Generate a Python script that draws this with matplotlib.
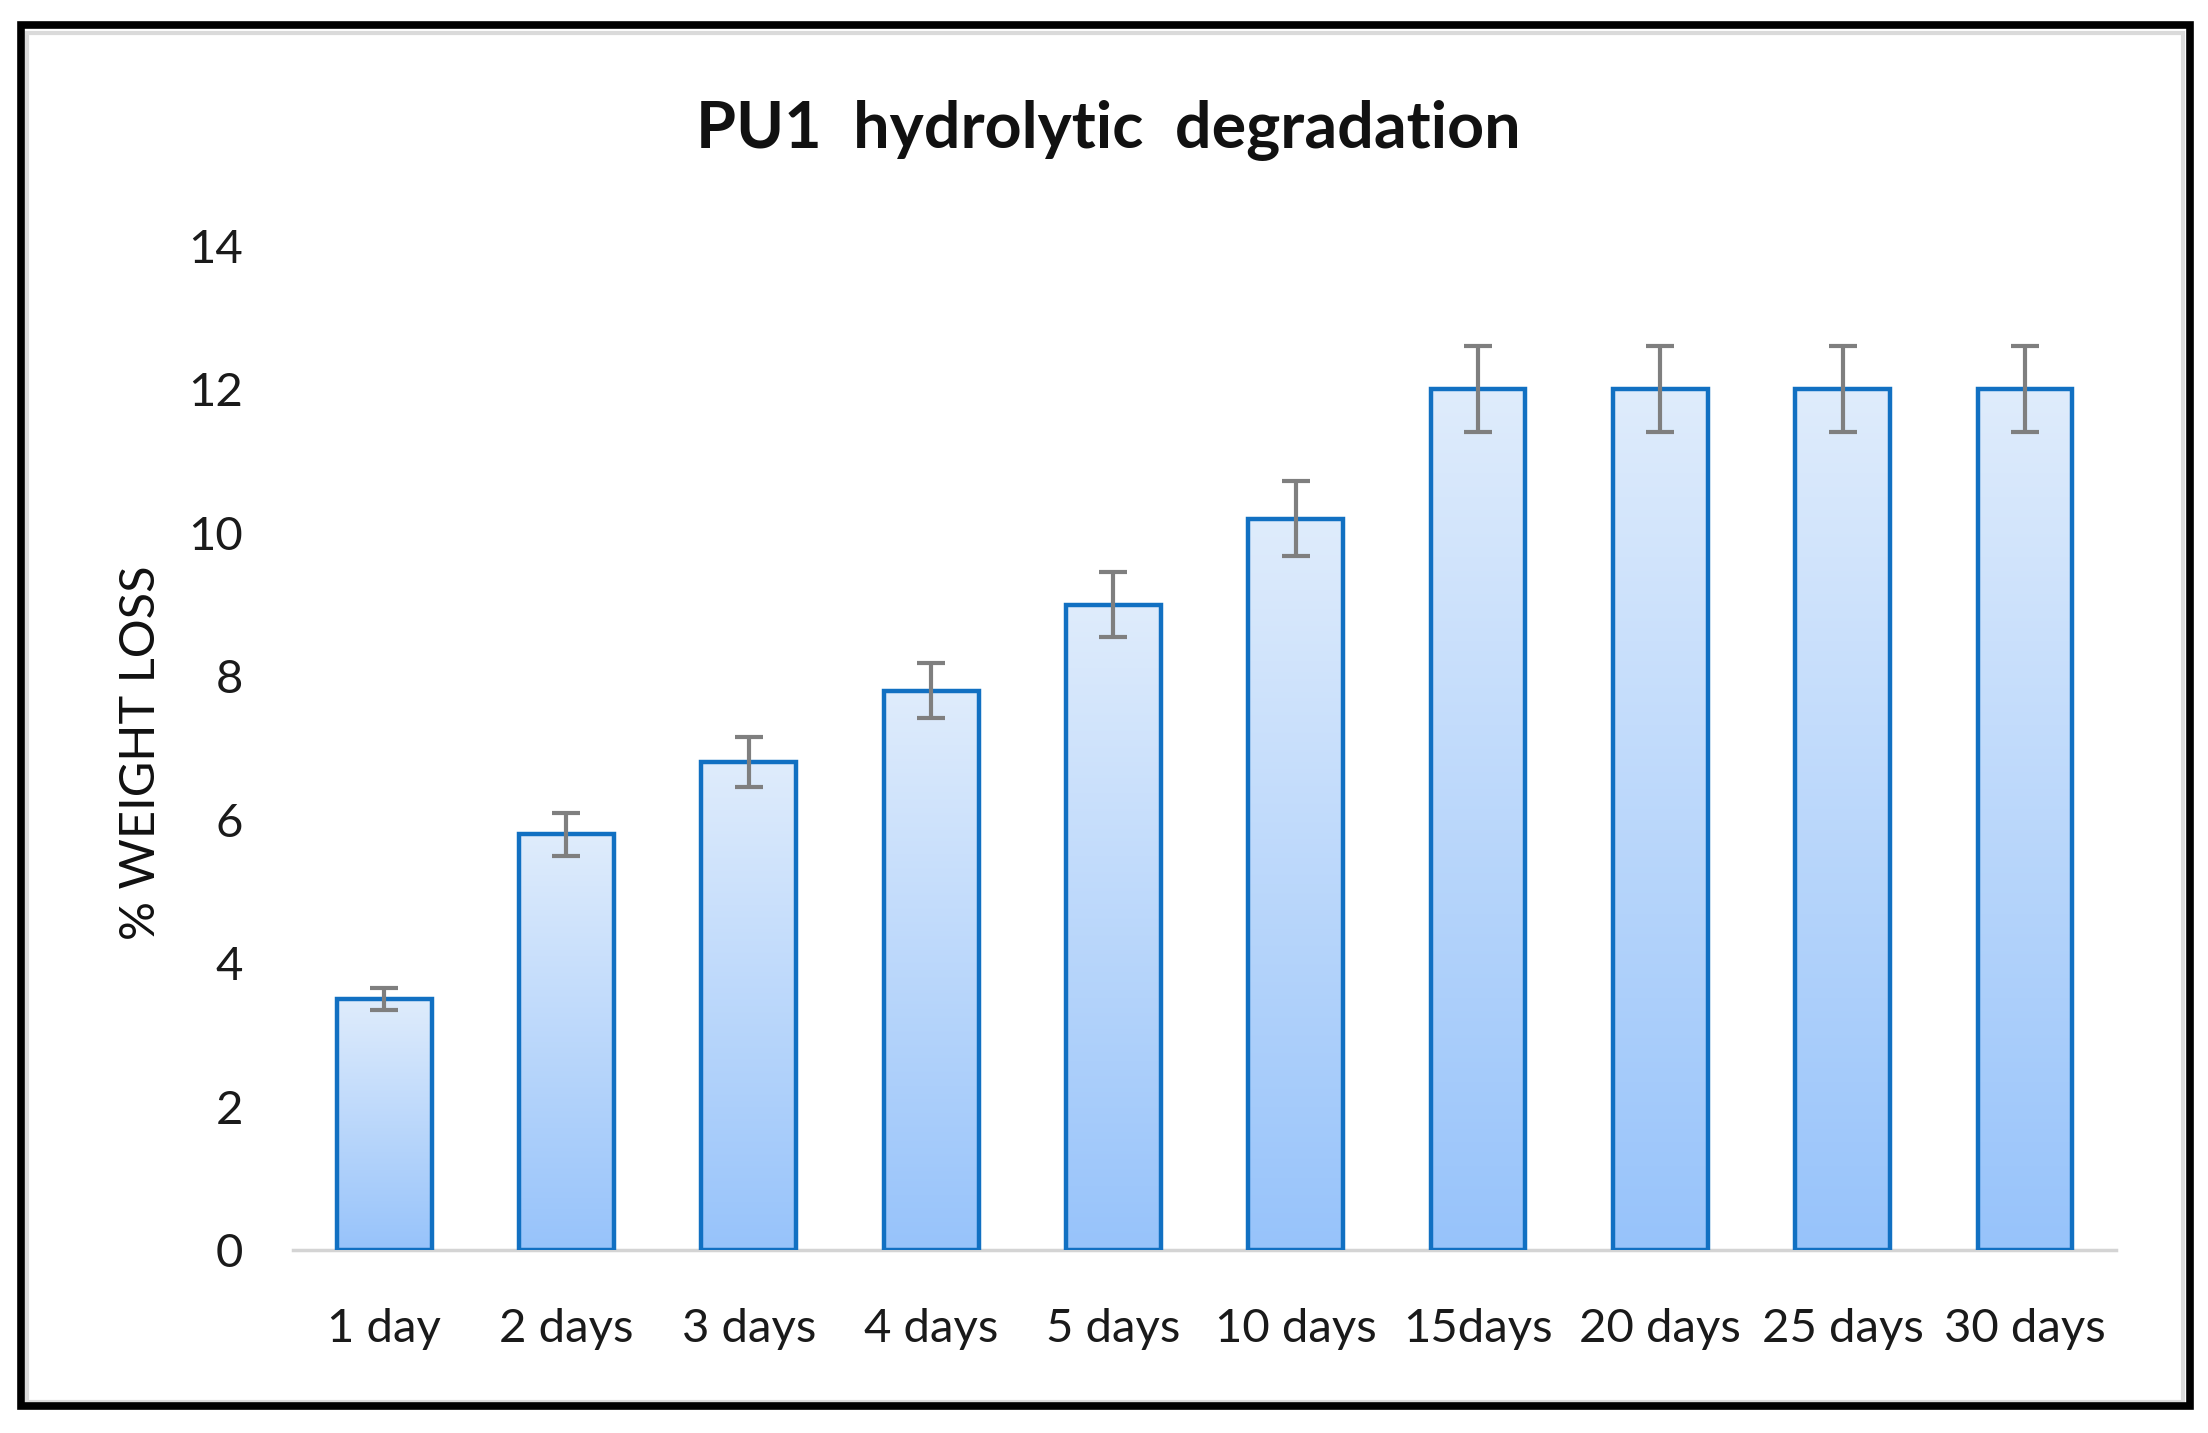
import numpy as np
import matplotlib
matplotlib.use('Agg')
import matplotlib.pyplot as plt
from matplotlib.colors import LinearSegmentedColormap
from matplotlib.patches import Rectangle


CATEGORIES = ['1 day', '2 days', '3 days', '4 days', '5 days',
              '10 days', '15days', '20 days', '25 days', '30 days']
WEIGHT_LOSS = [3.5, 5.8, 6.8, 7.8, 9.0, 10.2, 12.0, 12.0, 12.0, 12.0]
ERRORS = [0.15, 0.3, 0.35, 0.38, 0.45, 0.52, 0.6, 0.6, 0.6, 0.6]
Y_TICKS = [0, 2, 4, 6, 8, 10, 12, 14]

EDGE = '#1170c2'
GRAD = LinearSegmentedColormap.from_list('bar', ['#97c3fa', '#dfecfc'])

plt.rcParams['font.family'] = ['Lato', 'DejaVu Sans']

fig = plt.figure(figsize=(22.08, 14.33), dpi=100)
ax = fig.add_axes([0.1327, 0.1277, 0.8257, 0.7006])

x = np.arange(len(CATEGORIES))
bars = ax.bar(x, WEIGHT_LOSS, width=0.52, facecolor='none',
              edgecolor=EDGE, linewidth=3.2, zorder=3)

# vertical gradient inside every bar
grad = np.linspace(0, 1, 256).reshape(-1, 1)
for b in bars:
    x0, w, h = b.get_x(), b.get_width(), b.get_height()
    im = ax.imshow(grad, extent=[x0, x0 + w, 0, h], origin='lower',
                   aspect='auto', cmap=GRAD, zorder=2)
    im.set_clip_path(b)

ax.errorbar(x, WEIGHT_LOSS, yerr=ERRORS, fmt='none', ecolor='#7f7f7f',
            elinewidth=3, capsize=10, capthick=3, zorder=4)

ax.set_xlim(-0.5, len(CATEGORIES) - 0.5)
ax.set_ylim(0, 14)
ax.set_yticks(Y_TICKS)
ax.set_xticks(x)
ax.set_xticklabels(CATEGORIES)
ax.tick_params(axis='both', length=0, labelsize=34, colors='#1a1a1a')
ax.tick_params(axis='y', pad=36)
ax.tick_params(axis='x', pad=42)

for side in ['top', 'right', 'left']:
    ax.spines[side].set_visible(False)
ax.spines['bottom'].set_color('#d4d4d4')
ax.spines['bottom'].set_linewidth(2.5)
ax.spines['bottom'].set_zorder(1)

fig.text(0.502, 0.909, 'PU1  hydrolytic  degradation', ha='center',
         va='center', fontsize=46.5, fontweight='bold', color='#111111')
fig.text(0.0639, 0.4745, '% WEIGHT LOSS', ha='center', va='center',
         rotation=90, fontsize=35, color='#111111')

# frame round the picture
W, H = 2208, 1433
fig.patches.append(Rectangle((27 / W, 31 / H), (2183 - 27) / W, (1400 - 31) / H,
                             transform=fig.transFigure, fill=False,
                             edgecolor='#dadada', linewidth=3))
fig.patches.append(Rectangle((21 / W, 1 - 1406 / H), (2190 - 21) / W, (1406 - 25) / H,
                             transform=fig.transFigure, fill=False,
                             edgecolor='black', linewidth=5.5))

fig.savefig('out.png', dpi=100, facecolor='white')
